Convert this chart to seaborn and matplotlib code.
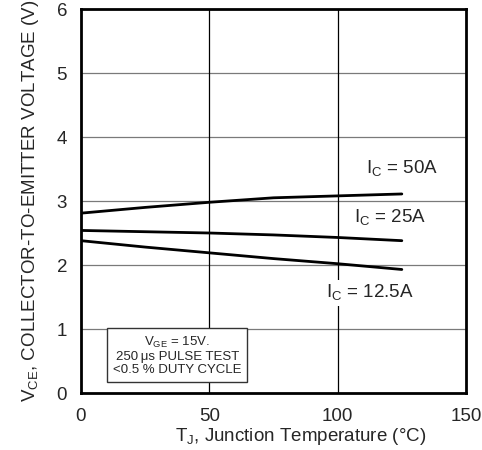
import pandas as pd
import matplotlib
matplotlib.use("Agg")
import matplotlib.pyplot as plt
import seaborn as sns

# Junction temperature points (deg C) and VCE (V)
temps = [0, 25, 50, 75, 100, 125]
vce_50a = [2.81, 2.90, 2.98, 3.05, 3.08, 3.11]
vce_25a = [2.54, 2.52, 2.50, 2.47, 2.43, 2.38]
vce_12a = [2.38, 2.28, 2.19, 2.10, 2.02, 1.93]
currents = ['50A', '25A', '12.5A']

df = pd.DataFrame({
    'Temp': temps * 3,
    'VCE': vce_50a + vce_25a + vce_12a,
    'Ic': [c for c in currents for _ in temps],
})

sns.set_style("white")
plt.rcParams['font.family'] = ['Liberation Sans', 'DejaVu Sans']
plt.rcParams['mathtext.fontset'] = 'custom'
plt.rcParams['mathtext.rm'] = 'Liberation Sans'

fig = plt.figure(figsize=(4.82, 4.5), dpi=100)
ax = fig.add_axes([81 / 482, 1 - 393 / 450, 385 / 482, 384 / 450])

# grid: grey horizontals, black verticals
for y in [1, 2, 3, 4, 5]:
    ax.axhline(y, color='#7a7a7a', lw=0.9, zorder=1)
for x in [50, 100]:
    ax.axvline(x, color='black', lw=0.9, zorder=1)

sns.lineplot(data=df, x='Temp', y='VCE', hue='Ic', palette=['black'] * 3,
             legend=False, lw=2.0, ax=ax, zorder=3)

ax.set_xlim(0, 150)
ax.set_ylim(0, 6)
ax.set_xticks([0, 50, 100, 150])
ax.set_yticks([0, 1, 2, 3, 4, 5, 6])
ax.tick_params(length=0, labelsize=13.5)
ax.tick_params(axis='x', pad=11)
ax.tick_params(axis='y', pad=10)
for s in ax.spines.values():
    s.set_linewidth(2.0)
    s.set_color('black')
    s.set_zorder(5)

ax.set_xlabel(r'T$_\mathregular{J}$, Junction Temperature (°C)', fontsize=13.5)
ax.xaxis.set_label_coords(0.57, -0.085)
ax.set_ylabel(r'V$_\mathregular{CE}$, COLLECTOR-TO-EMITTER VOLTAGE (V)', fontsize=13.5, labelpad=11)

white = dict(facecolor='white', edgecolor='none', pad=2)
ax.text(125, 3.5, r'I$_\mathregular{C}$ = 50A', fontsize=13.5, ha='center', va='center', bbox=white, zorder=4)
ax.text(120.5, 2.73, r'I$_\mathregular{C}$ = 25A', fontsize=13.5, ha='center', va='center', bbox=white, zorder=4)
ax.text(112.5, 1.56, r'I$_\mathregular{C}$ = 12.5A', fontsize=13.5, ha='center', va='center', bbox=white, zorder=4)

ax.text(37.5, 0.59, 'V$_\\mathregular{GE}$ = 15V.\n250\u2009\u03bcs PULSE TEST\n<0.5 % DUTY CYCLE',
        fontsize=9.5, ha='center', va='center', linespacing=1.1, zorder=4,
        bbox=dict(facecolor='white', edgecolor='#333333', lw=1.0, boxstyle='square,pad=0.45'))

fig.savefig('out.png', dpi=100)
